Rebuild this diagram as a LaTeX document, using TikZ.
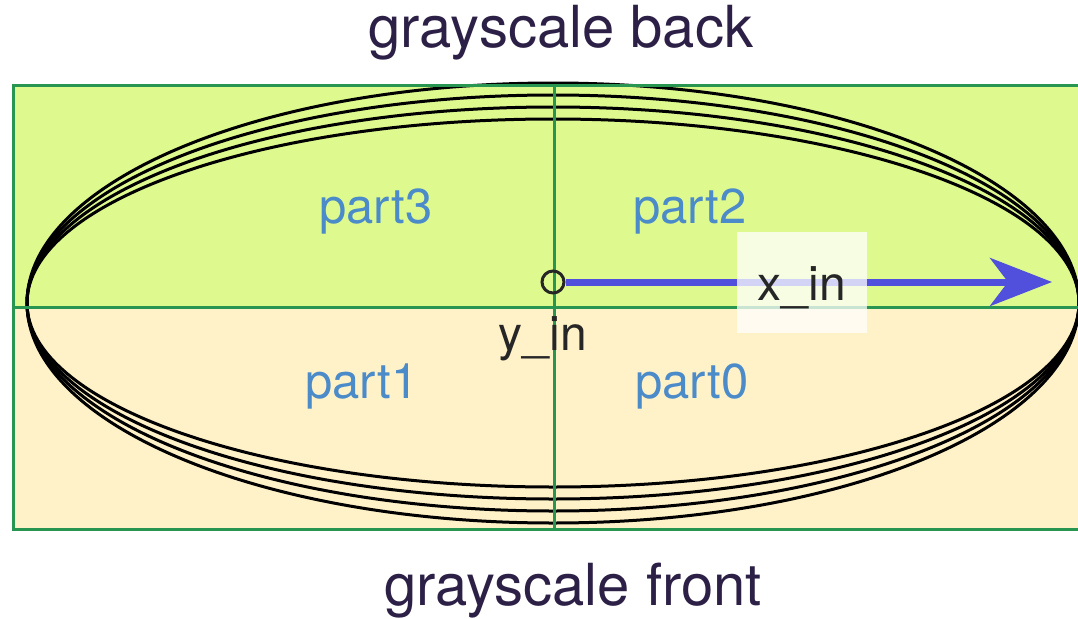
\documentclass[tikz,border=0pt]{standalone}
\usepackage{fontspec}
\setmainfont{TeX Gyre Heros}
\usetikzlibrary{arrows.meta}

\definecolor{backfill}{RGB}{222,250,142}
\definecolor{frontfill}{RGB}{255,242,200}
\definecolor{gridgreen}{RGB}{40,150,80}
\definecolor{partblue}{RGB}{76,139,201}
\definecolor{titleink}{RGB}{45,32,70}
\definecolor{arrowblue}{RGB}{80,80,221}

\tikzset{
  grid line/.style={draw=gridgreen, line width=3pt},
  ring/.style={draw=black, line width=3pt},
  title/.style={text=titleink, font=\fontsize{58}{60}\selectfont, anchor=base},
  part/.style={text=partblue, font=\fontsize{49}{52}\selectfont, anchor=base},
  axislabel/.style={text=black!85, font=\fontsize{48}{50}\selectfont},
  xarrow/.style={draw=arrowblue, line width=7pt,
    -{Stealth[length=62pt, width=48pt, inset=18pt]}},
}

\begin{document}
\begin{tikzpicture}[x=1pt, y=-1pt]
    \useasboundingbox (0,0) rectangle (1078,618);

    % Back and front halves
    \fill[backfill] (13,85) rectangle (1080,307);
    \fill[frontfill] (13,307) rectangle (1080,529);

    % Grayscale rings
    \foreach \b in {220,208,196,184}
        \draw[ring] (553,303) ellipse [x radius=526, y radius=\b];

    % Frame and axes
    \draw[grid line] (13,85) rectangle (1082,529);
    \draw[grid line] (13,307) -- (1080,307);
    \draw[grid line] (554,85) -- (554,529);

    % Titles
    \node[title] (back) at (561,48) {grayscale back};
    \node[title] (front) at (573,605) {grayscale front};

    % Part labels
    \node[part] (part3) at (376,223) {part3};
    \node[part] (part2) at (690,223) {part2};
    \node[part] (part1) at (362,398) {part1};
    \node[part] (part0) at (692,398) {part0};

    % Input axis
    \node[draw=black!85, circle, line width=3pt, minimum size=22pt, inner sep=0pt] (origin) at (553,282) {};
    \coordinate (xend) at (1052,282);
    \draw[xarrow] (origin.east) -- (xend);

    \node[axislabel, fill=white, fill opacity=0.75, text opacity=1,
          minimum width=130pt, minimum height=101pt,
          text height=40pt, text depth=4pt] (xlabel) at (802,282) {x\_in};
    \node[axislabel, anchor=base] (ylabel) at (543,350) {y\_in};
\end{tikzpicture}
\end{document}
